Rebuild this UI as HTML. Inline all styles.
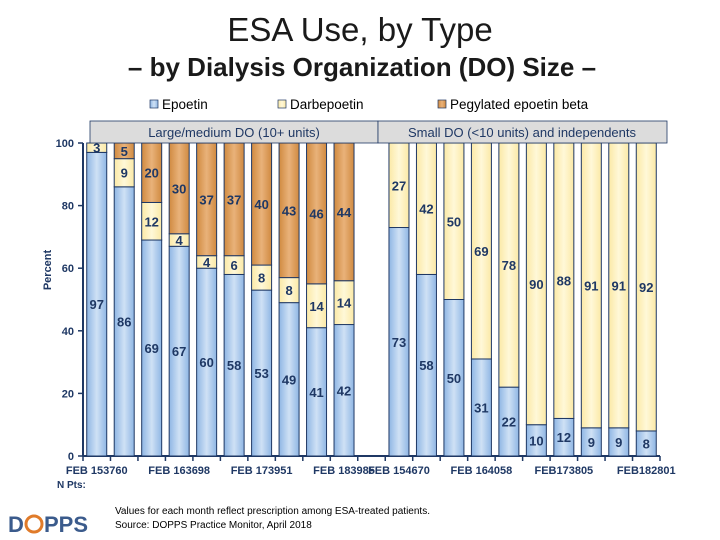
<!DOCTYPE html>
<html><head><meta charset="utf-8"><style>
body{margin:0;background:#fff;font-family:"Liberation Sans",sans-serif}
#wrap{position:relative;width:720px;height:540px;overflow:hidden}
</style></head><body>
<div id="wrap">
<svg id="svg" width="720" height="540" xmlns="http://www.w3.org/2000/svg" font-family="Liberation Sans, sans-serif">
<defs>
<linearGradient id="gBlue" x1="0" x2="1" y1="0" y2="0"><stop offset="0" stop-color="#8fb6e4"/><stop offset="0.5" stop-color="#cfe1f5"/><stop offset="1" stop-color="#8fb6e4"/></linearGradient>
<linearGradient id="gOr" x1="0" x2="1"><stop offset="0" stop-color="#d08a40"/><stop offset="0.5" stop-color="#e9b27a"/><stop offset="1" stop-color="#d08a40"/></linearGradient>
<linearGradient id="gYe" x1="0" x2="1"><stop offset="0" stop-color="#fbe9a6"/><stop offset="0.5" stop-color="#fff8d8"/><stop offset="1" stop-color="#fbe9a6"/></linearGradient>
</defs>
<text x="360" y="41" text-anchor="middle" font-size="33" fill="#1a1a1a">ESA Use, by Type</text>
<text x="362" y="76" text-anchor="middle" font-size="26" font-weight="bold" fill="#1a1a1a">– by Dialysis Organization (DO) Size –</text>
<g>
<g><rect x="150" y="100" width="8" height="8" fill="url(#gBlue)" stroke="#1f3864" stroke-width="0.7"/><text x="162" y="109" font-size="13.5">Epoetin</text></g>
<g><rect x="278" y="100" width="8" height="8" fill="url(#gYe)" stroke="#1f3864" stroke-width="0.7"/><text x="290" y="109" font-size="13.5">Darbepoetin</text></g>
<g><rect x="438" y="100" width="8" height="8" fill="url(#gOr)" stroke="#1f3864" stroke-width="0.7"/><text x="450" y="109" font-size="13.5">Pegylated epoetin beta</text></g>
</g>
<g id="plot"></g>
<rect x="90" y="121" width="288" height="22" fill="#dcdcdc" stroke="#1f3864" stroke-width="0.8"/>
<text x="234" y="137" text-anchor="middle" font-size="13" fill="#1f3864">Large/medium DO (10+ units)</text>
<rect x="378" y="121" width="289" height="22" fill="#dcdcdc" stroke="#1f3864" stroke-width="0.8"/>
<text x="522" y="137" text-anchor="middle" font-size="13" fill="#1f3864">Small DO (&lt;10 units) and independents</text>
<text transform="translate(51,270) rotate(-90)" text-anchor="middle" font-size="11" font-weight="bold" fill="#1f3864">Percent</text>
<text x="57" y="488" font-size="10" font-weight="bold" fill="#1f3864">N Pts:</text>
<text x="115" y="514" font-size="10" fill="#000">Values for each month reflect prescription among ESA-treated patients.</text>
<text x="115" y="528" font-size="10" fill="#000">Source: DOPPS Practice Monitor, April 2018</text>
<g>
<text x="8" y="532" font-size="22" font-weight="bold" fill="#3b5b8c">D</text>
<circle cx="34" cy="524" r="8" fill="none" stroke="#e07b2a" stroke-width="3"/>
<text x="44" y="532" font-size="22" font-weight="bold" fill="#3b5b8c">PPS</text>
</g>
</svg>
<script>
const categories=["FEB 15","","","FEB 16","","","FEB 17","","","FEB 18","FEB 15","","","FEB 16","","","FEB 17","","","FEB 18"];
const npts=["3760","3698","3951","3985","4670","4058","3805","2801"];
const epoetin=[97,86,69,67,60,58,53,49,41,42,73,58,50,31,22,10,12,9,9,8];
const darbepoetin=[3,9,12,4,4,6,8,8,14,14,27,42,50,69,78,90,88,91,91,92];
const pegylated=[0,5,20,30,37,37,40,43,46,44,0,0,0,0,0,0,0,0,0,0];
const yTicks=[0,20,40,60,80,100];
const labelSlots=[0,3,6,9,11,14,17,20];
const labelTexts=["FEB 15","FEB 16","FEB 17","FEB 18","FEB 15","FEB 16","FEB17","FEB18"];

const NS="http://www.w3.org/2000/svg";
const g=document.getElementById('plot');
const X0=83,X1=660,Y0=456,Y1=143,nSlots=21,slotW=(X1-X0)/nSlots,barW=20;
const y=v=>Y0-(Y0-Y1)*v/100;
const slotOf=i=>i<10?i:i+1;
const xc=s=>X0+slotW*(s+0.5);
function mk(t,a){const e=document.createElementNS(NS,t);for(const k in a)e.setAttribute(k,a[k]);g.appendChild(e);return e;}
let ax=mk('line',{x1:X0,y1:Y1,x2:X0,y2:Y0,stroke:'#1f3864','stroke-width':2});


let bx=mk('line',{x1:X0,y1:Y0,x2:X1,y2:Y0,stroke:'#1f3864','stroke-width':2});


yTicks.forEach(v=>{
  mk('line',{x1:X0-5,x2:X0,y1:y(v),y2:y(v),stroke:'#1f3864','stroke-width':1.5});
  const t=mk('text',{x:X0-9,y:y(v)+4,'text-anchor':'end','font-size':11,'font-weight':'bold',fill:'#1f3864'});
  t.textContent=v;
  
  
});
for(let s=0;s<=nSlots;s++) mk('line',{x1:X0+s*slotW,x2:X0+s*slotW,y1:Y0,y2:Y0+5,stroke:'#1f3864','stroke-width':1.5});
labelSlots.forEach((s,i)=>{
  const t=mk('text',{x:xc(s),y:Y0+18,'text-anchor':'middle','font-size':11,'font-weight':'bold',fill:'#1f3864'});
  t.textContent=labelTexts[i]+npts[i];
  
  
});
const series=[[epoetin,'url(#gBlue)','epoetin'],[darbepoetin,'url(#gYe)','darbepoetin'],[pegylated,'url(#gOr)','pegylated']];
epoetin.forEach((_,i)=>{
  const cx=xc(slotOf(i));let base=0;
  series.forEach(([arr,fill,nm])=>{
    const v=arr[i];if(!v)return;
    const top=Math.min(100,base+v);
    const r=mk('rect',{x:cx-barW/2,y:y(top),width:barW,height:y(base)-y(top),fill:fill,stroke:'#1f3864','stroke-width':1});
    
    
    const t=mk('text',{x:cx,y:y((base+top)/2)+5,'text-anchor':'middle','font-size':13,'font-weight':'bold',fill:'#1f3864'});
    t.textContent=v;
    
    
    base+=v;
  });
});
</script>
</div></body></html>
